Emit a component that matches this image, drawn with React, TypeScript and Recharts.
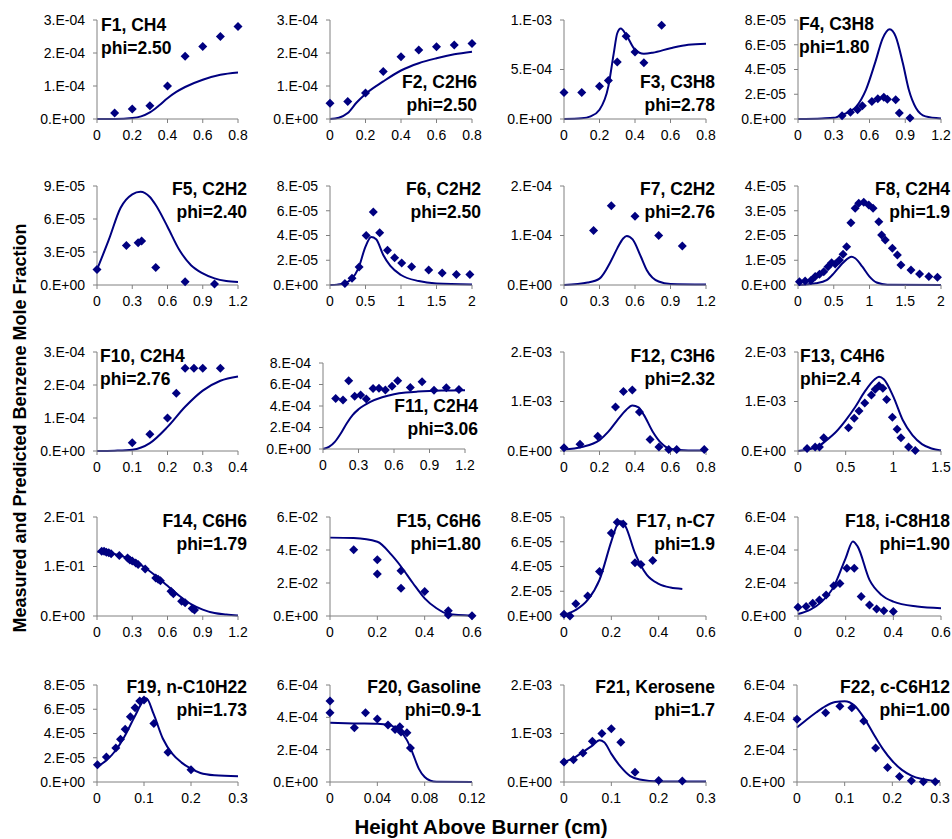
import React from "react";
import { ComposedChart, Line, Scatter, XAxis, YAxis } from "recharts";

type Pt = [number, number];

// ---- F1, CH4 ----
const f1Measured: Pt[] = [[0.1, 1.8e-5], [0.2, 3.0e-5], [0.3, 4.0e-5], [0.4, 1.0e-4], [0.5, 1.9e-4], [0.6, 2.2e-4], [0.7, 2.5e-4], [0.8, 2.8e-4]];
const f1Model: Pt[] = [[0, 0], [0.1, 2e-7], [0.2, 3e-6], [0.25, 8e-6], [0.3, 2.0e-5], [0.35, 4.0e-5], [0.4, 6.3e-5], [0.45, 8.2e-5], [0.5, 9.7e-5], [0.6, 1.19e-4], [0.7, 1.34e-4], [0.8, 1.41e-4]];
// ---- F2, C2H6 ----
const f2Measured: Pt[] = [[0, 4.8e-5], [0.1, 5.3e-5], [0.2, 7.9e-5], [0.3, 1.44e-4], [0.4, 1.89e-4], [0.5, 2.09e-4], [0.6, 2.19e-4], [0.7, 2.24e-4], [0.8, 2.29e-4]];
const f2Model: Pt[] = [[0, 0], [0.05, 4e-6], [0.1, 1.8e-5], [0.15, 5.0e-5], [0.2, 7.6e-5], [0.3, 1.14e-4], [0.4, 1.47e-4], [0.5, 1.69e-4], [0.6, 1.84e-4], [0.7, 1.96e-4], [0.8, 2.04e-4]];
// ---- F3, C3H8 ----
const f3Measured: Pt[] = [[0, 2.68e-4], [0.1, 2.68e-4], [0.2, 3.32e-4], [0.25, 3.89e-4], [0.3, 5.77e-4], [0.35, 8.36e-4], [0.4, 6.78e-4], [0.45, 5.67e-4], [0.55, 9.46e-4]];
const f3Model: Pt[] = [[0, 0], [0.1, 7e-6], [0.15, 2.7e-5], [0.2, 9.4e-5], [0.25, 3.3e-4], [0.28, 6.6e-4], [0.3, 8.66e-4], [0.32, 9.13e-4], [0.35, 8.5e-4], [0.4, 7.0e-4], [0.45, 6.6e-4], [0.5, 6.7e-4], [0.6, 7.15e-4], [0.7, 7.5e-4], [0.8, 7.6e-4]];
// ---- F4, C3H8 ----
const f4Measured: Pt[] = [[0.37, 2.7e-6], [0.44, 5.4e-6], [0.5, 7.5e-6], [0.54, 1.07e-5], [0.62, 1.42e-5], [0.67, 1.64e-5], [0.72, 1.75e-5], [0.75, 1.6e-5], [0.82, 1.56e-5], [0.85, 4.8e-6], [0.94, 8e-7]];
const f4Model: Pt[] = [[0, 0], [0.2, 5e-7], [0.3, 1e-6], [0.375, 3.5e-6], [0.49, 1.02e-5], [0.57, 2.36e-5], [0.65, 4.64e-5], [0.71, 6.5e-5], [0.77, 7.25e-5], [0.82, 6.66e-5], [0.88, 4.5e-5], [0.93, 2.36e-5], [0.99, 8.9e-6], [1.07, 2.1e-6], [1.2, 5e-7]];
// ---- F5, C2H2 ----
const f5Measured: Pt[] = [[0, 1.42e-5], [0.25, 3.58e-5], [0.35, 3.85e-5], [0.38, 4.0e-5], [0.5, 1.6e-5], [0.75, 3e-6], [1.0, 1e-6]];
const f5Model: Pt[] = [[0, 1.4e-5], [0.1, 4.1e-5], [0.2, 7.0e-5], [0.3, 8.24e-5], [0.37, 8.48e-5], [0.45, 8.0e-5], [0.5, 7.27e-5], [0.6, 5.3e-5], [0.7, 3.2e-5], [0.8, 1.8e-5], [0.9, 1.06e-5], [1.0, 6e-6], [1.1, 3.6e-6], [1.2, 2.7e-6]];
// ---- F6, C2H2 ----
const f6Measured: Pt[] = [[0.21, 1.3e-6], [0.31, 5.4e-6], [0.41, 1.46e-5], [0.51, 4.0e-5], [0.61, 5.9e-5], [0.7, 4.23e-5], [0.81, 2.8e-5], [0.91, 2.2e-5], [1.01, 1.78e-5], [1.15, 1.48e-5], [1.39, 1.21e-5], [1.58, 9.7e-6], [1.78, 8.4e-6], [1.97, 8.4e-6]];
const f6Model: Pt[] = [[0, 0], [0.1, 3e-7], [0.2, 1.3e-6], [0.3, 4.6e-6], [0.4, 1.35e-5], [0.5, 3.1e-5], [0.58, 3.88e-5], [0.65, 3.7e-5], [0.75, 2.43e-5], [0.85, 1.54e-5], [1.0, 8.1e-6], [1.25, 3.2e-6], [1.5, 1.3e-6], [2, 5e-7]];
// ---- F7, C2H2 ----
const f7Measured: Pt[] = [[0.25, 1.1e-4], [0.4, 1.6e-4], [0.6, 1.39e-4], [0.8, 1.0e-4], [1.0, 7.9e-5]];
const f7Model: Pt[] = [[0, 0], [0.2, 5e-6], [0.3, 1.3e-5], [0.4, 5.0e-5], [0.45, 7.4e-5], [0.5, 9.4e-5], [0.53, 9.9e-5], [0.58, 9.2e-5], [0.65, 5.7e-5], [0.7, 3.0e-5], [0.8, 7e-6], [0.9, 2e-6], [1.2, 1e-6]];
// ---- F8, C2H4 ----
const f8Measured: Pt[] = [[0.02, 1.3e-6], [0.1, 1.6e-6], [0.18, 1.8e-6], [0.24, 3.4e-6], [0.3, 4.3e-6], [0.36, 5.4e-6], [0.42, 7.4e-6], [0.47, 9.0e-6], [0.52, 8.5e-6], [0.58, 1.01e-5], [0.63, 1.24e-5], [0.68, 1.55e-5], [0.74, 2.52e-5], [0.8, 3.1e-5], [0.85, 3.3e-5], [0.92, 3.34e-5], [0.99, 3.23e-5], [1.05, 3.1e-5], [1.13, 2.56e-5], [1.17, 2.02e-5], [1.22, 1.82e-5], [1.32, 1.48e-5], [1.39, 1.21e-5], [1.44, 8.1e-6], [1.58, 6.1e-6], [1.7, 4.4e-6], [1.83, 3.4e-6], [1.95, 3.1e-6]];
const f8Model: Pt[] = [[0, 0], [0.25, 7e-7], [0.4, 2e-6], [0.5, 4.7e-6], [0.6, 8.1e-6], [0.7, 1.08e-5], [0.75, 1.14e-5], [0.8, 1.08e-5], [0.9, 7.4e-6], [1.0, 3.4e-6], [1.1, 1.0e-6], [1.25, 1e-7], [2, 0]];
// ---- F10, C2H4 ----
const f10Measured: Pt[] = [[0.1, 2.5e-5], [0.15, 5.1e-5], [0.2, 1.0e-4], [0.225, 1.75e-4], [0.25, 2.51e-4], [0.275, 2.51e-4], [0.3, 2.51e-4], [0.35, 2.51e-4]];
const f10Model: Pt[] = [[0, 0], [0.05, 1e-6], [0.1, 4e-6], [0.15, 2.4e-5], [0.2, 7.3e-5], [0.25, 1.34e-4], [0.3, 1.83e-4], [0.35, 2.13e-4], [0.4, 2.26e-4]];
// ---- F11, C2H4 ----
const f11Measured: Pt[] = [[0.107, 4.69e-4], [0.169, 4.56e-4], [0.217, 6.34e-4], [0.268, 4.91e-4], [0.318, 5.03e-4], [0.366, 4.66e-4], [0.423, 5.63e-4], [0.473, 5.66e-4], [0.527, 5.5e-4], [0.583, 5.84e-4], [0.631, 6.34e-4], [0.738, 5.72e-4], [0.837, 6.25e-4], [0.938, 5.47e-4], [1.042, 5.69e-4], [1.149, 5.53e-4]];
const f11Model: Pt[] = [[0, 0], [0.05, 1.9e-5], [0.1, 6.6e-5], [0.15, 1.44e-4], [0.2, 2.38e-4], [0.25, 3.16e-4], [0.3, 3.69e-4], [0.4, 4.38e-4], [0.5, 4.81e-4], [0.6, 5.09e-4], [0.7, 5.25e-4], [0.8, 5.34e-4], [0.9, 5.4e-4], [1.0, 5.44e-4], [1.2, 5.47e-4]];
// ---- F12, C3H6 ----
const f12Measured: Pt[] = [[0, 6.8e-5], [0.09, 1.36e-4], [0.19, 3.0e-4], [0.29, 8.9e-4], [0.335, 1.2e-3], [0.385, 1.23e-3], [0.425, 7.9e-4], [0.485, 2.3e-4], [0.535, 8e-5], [0.59, 3e-5], [0.635, 3e-5], [0.79, 3e-5]];
const f12Model: Pt[] = [[0, 3e-5], [0.1, 8e-5], [0.2, 2.2e-4], [0.25, 3.9e-4], [0.3, 6.2e-4], [0.35, 8.3e-4], [0.385, 9.2e-4], [0.42, 8.8e-4], [0.45, 7.3e-4], [0.5, 3.9e-4], [0.55, 1.5e-4], [0.6, 4e-5], [0.7, 1e-5], [0.8, 1e-5]];
// ---- F13, C4H6 ----
const f13Measured: Pt[] = [[0.095, 5e-5], [0.18, 8e-5], [0.225, 8e-5], [0.27, 2.7e-4], [0.53, 4.7e-4], [0.59, 6.6e-4], [0.64, 8.1e-4], [0.7, 9.7e-4], [0.77, 1.13e-3], [0.81, 1.25e-3], [0.85, 1.32e-3], [0.89, 1.27e-3], [0.93, 1.04e-3], [0.99, 6.8e-4], [1.04, 4.4e-4], [1.08, 2.7e-4], [1.16, 8e-5], [1.23, 1e-5]];
const f13Model: Pt[] = [[0, 0], [0.2, 8e-5], [0.3, 2.2e-4], [0.4, 3.9e-4], [0.5, 6.2e-4], [0.6, 8.9e-4], [0.7, 1.2e-3], [0.8, 1.44e-3], [0.85, 1.5e-3], [0.9, 1.45e-3], [1.0, 1.1e-3], [1.1, 6.2e-4], [1.2, 3.2e-4], [1.3, 1.4e-4], [1.4, 5e-5], [1.5, 1e-5]];
// ---- F14, C6H6 ----
const f14Measured: Pt[] = [[0.04, 1.31e-1], [0.06, 1.31e-1], [0.08, 1.29e-1], [0.1, 1.28e-1], [0.12, 1.26e-1], [0.19, 1.22e-1], [0.26, 1.17e-1], [0.28, 1.13e-1], [0.3, 1.11e-1], [0.33, 1.07e-1], [0.35, 1.04e-1], [0.41, 9.5e-2], [0.5, 7.7e-2], [0.52, 7.4e-2], [0.54, 7.1e-2], [0.63, 5.0e-2], [0.65, 4.5e-2], [0.72, 3.0e-2], [0.75, 2.7e-2], [0.81, 1.5e-2], [0.83, 1.2e-2]];
const f14Model: Pt[] = [[0, 1.3e-1], [0.1, 1.28e-1], [0.2, 1.22e-1], [0.3, 1.13e-1], [0.4, 9.9e-2], [0.5, 8.1e-2], [0.6, 6.1e-2], [0.7, 4.1e-2], [0.8, 2.4e-2], [0.9, 1.3e-2], [1.0, 6e-3], [1.1, 3e-3], [1.2, 1e-3]];
// ---- F15, C6H6 ----
const f15Measured: Pt[] = [[0.1, 4.02e-2], [0.2, 3.41e-2], [0.2, 2.54e-2], [0.3, 2.74e-2], [0.3, 1.68e-2], [0.4, 1.48e-2], [0.5, 3.2e-3], [0.5, 6e-4], [0.6, 2e-4]];
const f15Model: Pt[] = [[0, 4.75e-2], [0.1, 4.72e-2], [0.2, 4.5e-2], [0.26, 3.7e-2], [0.3, 3.0e-2], [0.35, 2.0e-2], [0.4, 1.07e-2], [0.45, 4.7e-3], [0.5, 1.2e-3], [0.6, 2e-4]];
// ---- F17, n-C7 ----
const f17Measured: Pt[] = [[0, 1.4e-6], [0.025, 0], [0.05, 1.0e-5], [0.1, 1.62e-5], [0.15, 3.6e-5], [0.2, 6.7e-5], [0.225, 7.57e-5], [0.25, 7.43e-5], [0.3, 4.3e-5], [0.325, 4.16e-5], [0.375, 4.49e-5]];
const f17Model: Pt[] = [[0, 8e-7], [0.05, 4.9e-6], [0.1, 1.3e-5], [0.15, 2.92e-5], [0.2, 6.03e-5], [0.225, 7.38e-5], [0.24, 7.65e-5], [0.26, 7.24e-5], [0.3, 5.08e-5], [0.35, 3.32e-5], [0.4, 2.6e-5], [0.45, 2.3e-5], [0.5, 2.19e-5]];
// ---- F18, i-C8H18 ----
const f18Measured: Pt[] = [[0, 5.3e-5], [0.034, 5.7e-5], [0.062, 7.7e-5], [0.09, 9.7e-5], [0.118, 1.28e-4], [0.15, 1.83e-4], [0.176, 1.97e-4], [0.205, 2.9e-4], [0.236, 2.9e-4], [0.265, 1.18e-4], [0.3, 6.7e-5], [0.33, 4.3e-5], [0.36, 3.2e-5], [0.4, 2.8e-5]];
const f18Model: Pt[] = [[0, 1.2e-5], [0.05, 3.7e-5], [0.1, 8.7e-5], [0.15, 1.78e-4], [0.2, 3.51e-4], [0.23, 4.52e-4], [0.25, 4.22e-4], [0.3, 2.19e-4], [0.35, 1.28e-4], [0.4, 8.7e-5], [0.5, 5.7e-5], [0.6, 4.7e-5]];
// ---- F19, n-C10H22 ----
const f19Measured: Pt[] = [[0.001, 1.43e-5], [0.02, 2.07e-5], [0.04, 2.81e-5], [0.05, 3.53e-5], [0.06, 4.36e-5], [0.071, 5.38e-5], [0.081, 6.12e-5], [0.091, 6.68e-5], [0.1, 6.76e-5], [0.121, 4.83e-5], [0.151, 2.46e-5], [0.2, 1.02e-5]];
const f19Model: Pt[] = [[0, 1.24e-5], [0.02, 1.79e-5], [0.04, 2.62e-5], [0.06, 3.86e-5], [0.08, 5.38e-5], [0.1, 6.76e-5], [0.105, 6.9e-5], [0.12, 5.66e-5], [0.14, 3.59e-5], [0.16, 2.34e-5], [0.18, 1.6e-5], [0.2, 1.1e-5], [0.22, 7.4e-6], [0.25, 5.5e-6], [0.3, 4.7e-6]];
// ---- F20, Gasoline ----
const f20Measured: Pt[] = [[0, 5.01e-4], [0, 4.29e-4], [0.0206, 3.35e-4], [0.03, 4.29e-4], [0.04, 3.89e-4], [0.049, 3.52e-4], [0.055, 3.25e-4], [0.059, 3.42e-4], [0.06, 3.1e-4], [0.065, 3.04e-4], [0.068, 2.11e-4]];
const f20Model: Pt[] = [[0, 3.66e-4], [0.02, 3.62e-4], [0.04, 3.6e-4], [0.05, 3.52e-4], [0.055, 3.37e-4], [0.06, 3.1e-4], [0.065, 2.59e-4], [0.07, 1.76e-4], [0.075, 8.3e-5], [0.08, 3.1e-5], [0.085, 8e-6], [0.09, 2e-6], [0.12, 0]];
// ---- F21, Kerosene ----
const f21Measured: Pt[] = [[0, 4.1e-4], [0.02, 4.6e-4], [0.04, 6.0e-4], [0.06, 8.4e-4], [0.08, 1.0e-3], [0.1, 1.1e-3], [0.12, 8.2e-4], [0.15, 2.0e-4], [0.2, 3e-5], [0.25, 2e-5]];
const f21Model: Pt[] = [[0, 4.1e-4], [0.02, 4.9e-4], [0.04, 6.2e-4], [0.06, 7.5e-4], [0.075, 8.6e-4], [0.085, 8.2e-4], [0.1, 5.8e-4], [0.12, 3.1e-4], [0.14, 1.2e-4], [0.16, 5e-5], [0.2, 1e-5], [0.3, 1e-5]];
// ---- F22, c-C6H12 ----
const f22Measured: Pt[] = [[0, 3.88e-4], [0.06, 4.28e-4], [0.09, 4.69e-4], [0.115, 4.59e-4], [0.14, 3.78e-4], [0.165, 2.1e-4], [0.19, 8.9e-5], [0.215, 3.4e-5], [0.24, 8e-6], [0.265, 2e-6], [0.29, 2e-6]];
const f22Model: Pt[] = [[0, 3.37e-4], [0.02, 3.85e-4], [0.04, 4.3e-4], [0.06, 4.7e-4], [0.08, 4.95e-4], [0.1, 5.0e-4], [0.12, 4.75e-4], [0.14, 4.0e-4], [0.16, 3.0e-4], [0.18, 2.05e-4], [0.2, 1.3e-4], [0.22, 7.5e-5], [0.24, 4e-5], [0.26, 2e-5], [0.28, 1e-5], [0.3, 5e-6]];

// tick values
const ticks0to08 = [0, 0.2, 0.4, 0.6, 0.8];
const ticks0to12 = [0, 0.3, 0.6, 0.9, 1.2];
const ticks0to2 = [0, 0.5, 1, 1.5, 2];
const ticks0to04 = [0, 0.1, 0.2, 0.3, 0.4];
const ticks0to15 = [0, 0.5, 1, 1.5];
const ticks0to06 = [0, 0.2, 0.4, 0.6];
const ticks0to03 = [0, 0.1, 0.2, 0.3];
const ticks0to012 = [0, 0.04, 0.08, 0.12];

const yTicks3e4 = [0, 1e-4, 2e-4, 3e-4];
const yTicks1e3half = [0, 5e-4, 1e-3];
const yTicks8e5 = [0, 2e-5, 4e-5, 6e-5, 8e-5];
const yTicks9e5 = [0, 3e-5, 6e-5, 9e-5];
const yTicks2e4 = [0, 1e-4, 2e-4];
const yTicks4e5 = [0, 1e-5, 2e-5, 3e-5, 4e-5];
const yTicks8e4 = [0, 2e-4, 4e-4, 6e-4, 8e-4];
const yTicks2e3 = [0, 1e-3, 2e-3];
const yTicks2e1 = [0, 1e-1, 2e-1];
const yTicks6e2 = [0, 2e-2, 4e-2, 6e-2];
const yTicks6e4 = [0, 2e-4, 4e-4, 6e-4];

const NAVY = "#000080";
const FONT = "'Liberation Sans', Arial, sans-serif";

// Excel style "3.E-04"
const sci = (v: number) => {
  const [m, e] = v.toExponential(0).split("e");
  const n = parseInt(e, 10);
  return `${m}.E${n < 0 ? "-" : "+"}${String(Math.abs(n)).padStart(2, "0")}`;
};

const toRows = (pts: Pt[]) => pts.map(([x, y]) => ({ x, y }));

const Diamond = (props: any) => {
  const { cx, cy } = props;
  if (cx == null || cy == null) return null;
  return (
    <polygon
      points={`${cx - 4.5},${cy} ${cx},${cy - 4.5} ${cx + 4.5},${cy} ${cx},${cy + 4.5}`}
      fill={NAVY}
    />
  );
};

type Panel = {
  name: string;
  phi: string;
  measured: Pt[];
  model: Pt[];
  xTicks: number[];
  yTicks: number[];
  box: [number, number, number, number]; // plot left, top, width, height
  label: { align: "left" | "right"; x: number; top: number };
};

const panels: Panel[] = [
  { name: "F1, CH4", phi: "phi=2.50", measured: f1Measured, model: f1Model, xTicks: ticks0to08, yTicks: yTicks3e4, box: [97, 20, 141, 99], label: { align: "left", x: 101, top: 14 } },
  { name: "F2, C2H6", phi: "phi=2.50", measured: f2Measured, model: f2Model, xTicks: ticks0to08, yTicks: yTicks3e4, box: [330, 20, 142, 99], label: { align: "right", x: 477, top: 71 } },
  { name: "F3, C3H8", phi: "phi=2.78", measured: f3Measured, model: f3Model, xTicks: ticks0to08, yTicks: yTicks1e3half, box: [564, 20, 142, 99], label: { align: "right", x: 715, top: 71 } },
  { name: "F4, C3H8", phi: "phi=1.80", measured: f4Measured, model: f4Model, xTicks: ticks0to12, yTicks: yTicks8e5, box: [798, 20, 143, 99], label: { align: "left", x: 799, top: 13 } },

  { name: "F5, C2H2", phi: "phi=2.40", measured: f5Measured, model: f5Model, xTicks: ticks0to12, yTicks: yTicks9e5, box: [97, 186, 141, 99], label: { align: "right", x: 247, top: 178 } },
  { name: "F6, C2H2", phi: "phi=2.50", measured: f6Measured, model: f6Model, xTicks: ticks0to2, yTicks: yTicks8e5, box: [330, 186, 142, 99], label: { align: "right", x: 481, top: 178 } },
  { name: "F7, C2H2", phi: "phi=2.76", measured: f7Measured, model: f7Model, xTicks: ticks0to12, yTicks: yTicks2e4, box: [564, 186, 142, 99], label: { align: "right", x: 715, top: 178 } },
  { name: "F8, C2H4", phi: "phi=1.9", measured: f8Measured, model: f8Model, xTicks: ticks0to2, yTicks: yTicks4e5, box: [798, 186, 143, 99], label: { align: "right", x: 950, top: 178 } },

  { name: "F10, C2H4", phi: "phi=2.76", measured: f10Measured, model: f10Model, xTicks: ticks0to04, yTicks: yTicks3e4, box: [97, 352, 141, 99], label: { align: "left", x: 100, top: 345 } },
  { name: "F11, C2H4", phi: "phi=3.06", measured: f11Measured, model: f11Model, xTicks: ticks0to12, yTicks: yTicks8e4, box: [323, 363, 142, 86], label: { align: "right", x: 478, top: 395 } },
  { name: "F12, C3H6", phi: "phi=2.32", measured: f12Measured, model: f12Model, xTicks: ticks0to08, yTicks: yTicks2e3, box: [564, 352, 142, 99], label: { align: "right", x: 715, top: 345 } },
  { name: "F13, C4H6", phi: "phi=2.4", measured: f13Measured, model: f13Model, xTicks: ticks0to15, yTicks: yTicks2e3, box: [798, 352, 143, 99], label: { align: "left", x: 800, top: 345 } },

  { name: "F14, C6H6", phi: "phi=1.79", measured: f14Measured, model: f14Model, xTicks: ticks0to12, yTicks: yTicks2e1, box: [97, 517, 141, 99], label: { align: "right", x: 247, top: 510 } },
  { name: "F15, C6H6", phi: "phi=1.80", measured: f15Measured, model: f15Model, xTicks: ticks0to06, yTicks: yTicks6e2, box: [330, 517, 142, 99], label: { align: "right", x: 481, top: 510 } },
  { name: "F17, n-C7", phi: "phi=1.9", measured: f17Measured, model: f17Model, xTicks: ticks0to06, yTicks: yTicks8e5, box: [564, 517, 142, 99], label: { align: "right", x: 715, top: 510 } },
  { name: "F18, i-C8H18", phi: "phi=1.90", measured: f18Measured, model: f18Model, xTicks: ticks0to06, yTicks: yTicks6e4, box: [798, 517, 143, 99], label: { align: "right", x: 950, top: 510 } },

  { name: "F19, n-C10H22", phi: "phi=1.73", measured: f19Measured, model: f19Model, xTicks: ticks0to03, yTicks: yTicks8e5, box: [97, 685, 141, 97], label: { align: "right", x: 247, top: 676 } },
  { name: "F20, Gasoline", phi: "phi=0.9-1", measured: f20Measured, model: f20Model, xTicks: ticks0to012, yTicks: yTicks6e4, box: [330, 685, 142, 97], label: { align: "right", x: 481, top: 676 } },
  { name: "F21, Kerosene", phi: "phi=1.7", measured: f21Measured, model: f21Model, xTicks: ticks0to03, yTicks: yTicks2e3, box: [564, 685, 142, 97], label: { align: "right", x: 715, top: 676 } },
  { name: "F22, c-C6H12", phi: "phi=1.00", measured: f22Measured, model: f22Model, xTicks: ticks0to03, yTicks: yTicks6e4, box: [797, 685, 143, 97], label: { align: "right", x: 950, top: 676 } },
];

const AXIS_W = 90;
const AXIS_H = 30;
const RIGHT_PAD = 25;

function SmallChart({ p }: { p: Panel }) {
  const [left, top, w, h] = p.box;
  const xMax = p.xTicks[p.xTicks.length - 1];
  const yMax = p.yTicks[p.yTicks.length - 1];
  return (
    <div style={{ position: "absolute", left: left - AXIS_W, top: top - 10 }}>
      <ComposedChart
        width={AXIS_W + w + RIGHT_PAD}
        height={10 + h + AXIS_H}
        margin={{ top: 10, right: RIGHT_PAD, bottom: 0, left: 0 }}
      >
        <XAxis
          type="number"
          dataKey="x"
          domain={[0, xMax]}
          ticks={p.xTicks}
          interval={0}
          height={AXIS_H}
          stroke="#808080"
          tickSize={4}
          tickMargin={7}
          tick={{ fontSize: 14, fill: "#000", fontFamily: FONT }}
        />
        <YAxis
          type="number"
          dataKey="y"
          domain={[0, yMax]}
          ticks={p.yTicks}
          interval={0}
          width={AXIS_W}
          stroke="#808080"
          tickSize={4}
          tickMargin={8}
          tickFormatter={sci}
          tick={{ fontSize: 14, fill: "#000", fontFamily: FONT }}
        />
        <Line
          data={toRows(p.model)}
          dataKey="y"
          type="monotone"
          stroke={NAVY}
          strokeWidth={2}
          dot={false}
          isAnimationActive={false}
        />
        <Scatter
          data={toRows(p.measured)}
          dataKey="y"
          fill={NAVY}
          shape={Diamond}
          isAnimationActive={false}
        />
      </ComposedChart>
    </div>
  );
}

export default function App() {
  return (
    <div
      style={{
        position: "absolute",
        left: 0,
        top: 0,
        width: 952,
        height: 839,
        background: "#fff",
        fontFamily: FONT,
        overflow: "hidden",
      }}
    >
      {panels.map((p) => (
        <SmallChart key={p.name} p={p} />
      ))}
      {panels.map((p) => (
        <div
          key={p.name + "-label"}
          style={{
            position: "absolute",
            top: p.label.top,
            ...(p.label.align === "left"
              ? { left: p.label.x, textAlign: "left" as const }
              : { right: 952 - p.label.x, textAlign: "right" as const }),
            fontSize: 17.5,
            fontWeight: "bold",
            lineHeight: "23px",
            whiteSpace: "pre",
            color: "#000",
          }}
        >
          {p.name + "\n" + p.phi}
        </div>
      ))}
      <div
        style={{
          position: "absolute",
          left: 20,
          top: 428,
          transform: "translate(-50%, -50%) rotate(-90deg)",
          whiteSpace: "nowrap",
          fontSize: 18,
          fontWeight: "bold",
        }}
      >
        Measured and Predicted Benzene Mole Fraction
      </div>
      <div
        style={{
          position: "absolute",
          left: 481,
          top: 827,
          transform: "translate(-50%, -50%)",
          whiteSpace: "nowrap",
          fontSize: 20.5,
          lineHeight: "20px",
          fontWeight: "bold",
        }}
      >
        Height Above Burner (cm)
      </div>
    </div>
  );
}
